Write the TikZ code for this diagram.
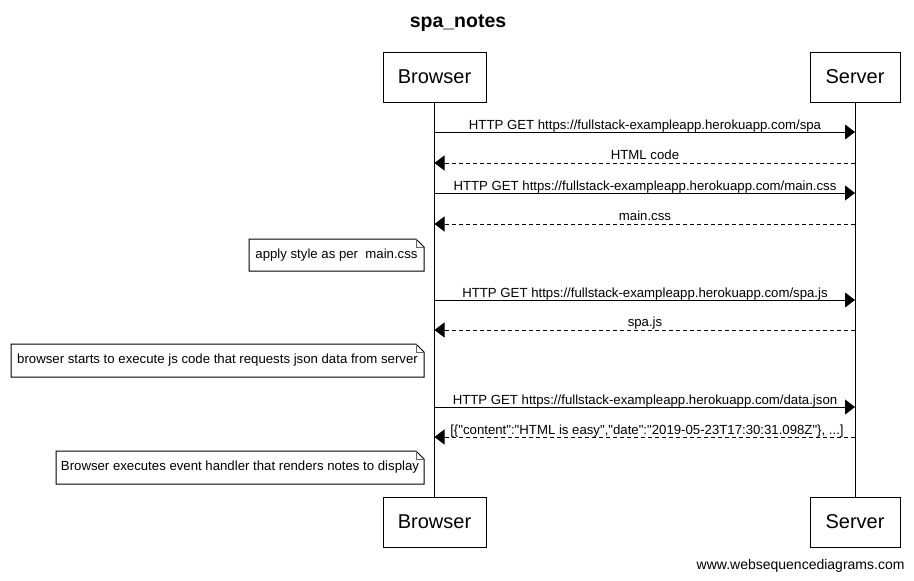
\documentclass[tikz,border=0pt]{standalone}
\usepackage{fontspec}
\setmainfont{Liberation Sans}
\newfontfamily\plainarial{Liberation Sans}
\usetikzlibrary{arrows.meta}
\begin{document}
\begin{tikzpicture}[x=1pt,y=-1pt,line width=1pt,
  actor/.style={draw,line width=1pt,minimum height=50pt,inner sep=0pt,font=\fontsize{20}{24}\selectfont},
  lifeline/.style={line width=1pt},
  msg/.style={line width=1pt,-{Triangle[length=10pt,width=15pt]}},
  reply/.style={msg,dash pattern=on 4pt off 3pt},
  msglabel/.style={font=\plainarial\fontsize{13.2}{15}\selectfont,anchor=base,inner sep=0pt},
  notetext/.style={font=\plainarial\fontsize{13.2}{15}\selectfont,inner sep=0pt},
  fold/.style={line width=0.8pt,draw=black!60}
]
\useasboundingbox (0,0) rectangle (914,581);
% title
\node[font=\bfseries\fontsize{19.5}{23}\selectfont] (title) at (458,23.5) {spa\_notes};
% actors
\node[actor,minimum width=103pt] (bt) at (434.5,77) {\raisebox{-1pt}{Browser}};
\node[actor,minimum width=90pt] (st) at (855,77) {\raisebox{-1pt}{Server}};
\node[actor,minimum width=103pt] (bb) at (434.5,522) {\raisebox{-1pt}{Browser}};
\node[actor,minimum width=90pt] (sb) at (855,522) {\raisebox{-1pt}{Server}};
\draw[lifeline] (bt.south) -- (bb.north);
\draw[lifeline] (st.south) -- (sb.north);
% message anchor coordinates
\foreach \n/\y in {1/132,2/163,3/193,4/224,5/300,6/330,7/407,8/437}{
  \coordinate (b\n) at (434.5,\y);
  \coordinate (s\n) at (855,\y);
}
\draw[msg] (b1) -- (s1);
\draw[reply] (s2) -- (b2);
\draw[msg] (b3) -- (s3);
\draw[reply] (s4) -- (b4);
\draw[msg] (b5) -- (s5);
\draw[reply] (s6) -- (b6);
\draw[msg] (b7) -- (s7);
\draw[reply] (s8) -- (b8);
\node[msglabel] (l1) at (645,129) {HTTP GET https://fullstack-exampleapp.herokuapp.com/spa};
\node[msglabel] (l2) at (645,159) {HTML code};
\node[msglabel] (l3) at (645,190) {HTTP GET https://fullstack-exampleapp.herokuapp.com/main.css};
\node[msglabel] (l4) at (645,220) {main.css};
\node[msglabel] (l5) at (645,297) {HTTP GET https://fullstack-exampleapp.herokuapp.com/spa.js};
\node[msglabel] (l6) at (645,326) {spa.js};
\node[msglabel] (l7) at (645,404) {HTTP GET https://fullstack-exampleapp.herokuapp.com/data.json};
\node[msglabel] (l8) at (647,434) {[\{"content":"HTML is easy","date":"2019-05-23T17:30:31.098Z"\}, ...]};
% notes
\foreach \x/\ya/\yb in {249/239/271, 11/344/377, 56/451/484}{
  \draw (\x,\ya) -- (416,\ya) -- (424,\ya+8) -- (424,\yb) -- (\x,\yb) -- cycle;
  \draw[fold] (416,\ya) -- (416,\ya+8) -- (424,\ya+8);
}
\node[notetext] (n1) at (336.5,255) {apply style as per\ \ main.css};
\node[notetext] (n2) at (217.5,360.5) {browser starts to execute js code that requests json data from server};
\node[notetext] (n3) at (240,467.5) {Browser executes event handler that renders notes to display};
% footer
\node[font=\fontsize{14}{17}\selectfont,anchor=east,inner sep=0pt] (footer) at (905,565.5) {www.websequencediagrams.com};
\end{tikzpicture}
\end{document}
